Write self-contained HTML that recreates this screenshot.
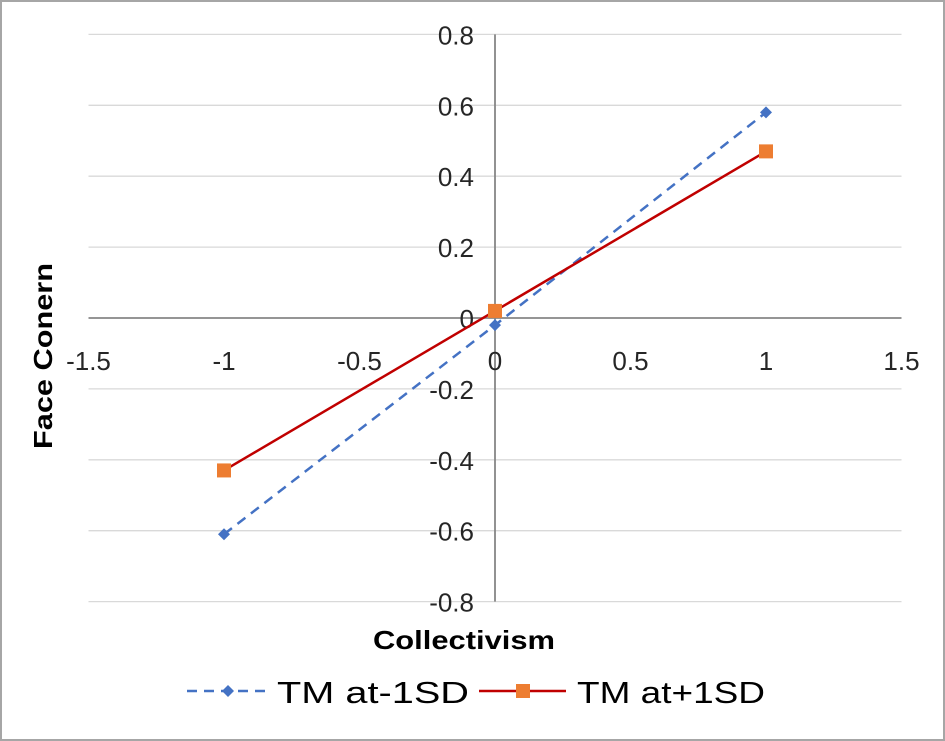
<!DOCTYPE html>
<html><head><meta charset="utf-8"><style>
html,body{margin:0;padding:0;background:#fff}
#wrap{width:941px;height:737px;border:2px solid #a6a6a6;position:relative;overflow:hidden}
svg text{font-family:"Liberation Sans","Noto Sans CJK SC",sans-serif}
</style></head><body>
<div id="wrap">
<svg id="chart" width="941" height="737"></svg>
</div>
<script>
const categories=[-1,0,1];
const seriesLow=[-0.61,-0.02,0.58];
const seriesHigh=[-0.43,0.02,0.47];
const xTicks=[-1.5,-1,-0.5,0,0.5,1,1.5];
const yTicks=[-0.8,-0.6,-0.4,-0.2,0,0.2,0.4,0.6,0.8];
const NS="http://www.w3.org/2000/svg";
const svg=document.getElementById('chart');
const ox=-2,oy=-2;
function X(v){return 495+v*271+ox;}
function Y(v){return 318-v*354.5+oy;}
function el(t,a,p){const e=document.createElementNS(NS,t);for(const k in a)e.setAttribute(k,a[k]);(p||svg).appendChild(e);return e;}
const grid=el('g',{});


yTicks.forEach(v=>{if(v===0)return;const l=el('line',{x1:X(-1.5),x2:X(1.5),y1:Y(v),y2:Y(v),stroke:'#d9d9d9','stroke-width':1.3},grid);

});
const xa=el('line',{x1:X(-1.5),x2:X(1.5),y1:Y(0),y2:Y(0),stroke:'#868686','stroke-width':1.8});


const ya=el('line',{x1:X(0),x2:X(0),y1:Y(0.8),y2:Y(-0.8),stroke:'#868686','stroke-width':1.8});


xTicks.forEach(v=>{const t=el('text',{x:X(v),y:Y(0)+52,'text-anchor':'middle','font-size':26,fill:'#262626'});t.textContent=String(v);

});
yTicks.forEach(v=>{const t=el('text',{x:X(0)-21,y:Y(v)+10,'text-anchor':'end','font-size':26,fill:'#262626'});t.textContent=String(v);

});
function pts(s){return categories.map((c,i)=>X(c)+','+Y(s[i])).join(' ');}
const l1=el('polyline',{points:pts(seriesLow),fill:'none',stroke:'#4472c4','stroke-width':2.5,'stroke-dasharray':'10,7'});


const l2=el('polyline',{points:pts(seriesHigh),fill:'none',stroke:'#c00000','stroke-width':2.5});


function diamond(cx,cy,r){return `${cx},${cy-r} ${cx+r},${cy} ${cx},${cy+r} ${cx-r},${cy}`;}
categories.forEach((c,i)=>{const d=el('polygon',{points:diamond(X(c),Y(seriesLow[i]),6),fill:'#4472c4'});

});
categories.forEach((c,i)=>{const r=el('rect',{x:X(c)-7,y:Y(seriesHigh[i])-7,width:14,height:14,fill:'#ed7d31'});

});
const yt=el('text',{x:0,y:0,transform:`translate(50,${Y(0)+38}) rotate(-90)`,'text-anchor':'middle','font-size':26,'font-weight':'bold',fill:'#000',textLength:186,lengthAdjust:'spacingAndGlyphs'});yt.textContent='Face Conern';


const xt=el('text',{x:462,y:647,'text-anchor':'middle','font-size':26,'font-weight':'bold',fill:'#000',textLength:182,lengthAdjust:'spacingAndGlyphs'});xt.textContent='Collectivism';


const lg=el('g',{});


el('line',{x1:185,x2:265,y1:689,y2:689,stroke:'#4472c4','stroke-width':2.5,'stroke-dasharray':'10,7'},lg);
el('polygon',{points:diamond(226,689,6),fill:'#4472c4'},lg);
const t1=el('text',{x:275,y:701,'font-size':31,fill:'#000',textLength:192,lengthAdjust:'spacingAndGlyphs'},lg);t1.textContent='TM at-1SD';
el('line',{x1:477,x2:564,y1:689,y2:689,stroke:'#c00000','stroke-width':2.5},lg);
el('rect',{x:514,y:682,width:14,height:14,fill:'#ed7d31'},lg);
const t2=el('text',{x:575,y:701,'font-size':31,fill:'#000',textLength:188,lengthAdjust:'spacingAndGlyphs'},lg);t2.textContent='TM at+1SD';
</script>
</body></html>
